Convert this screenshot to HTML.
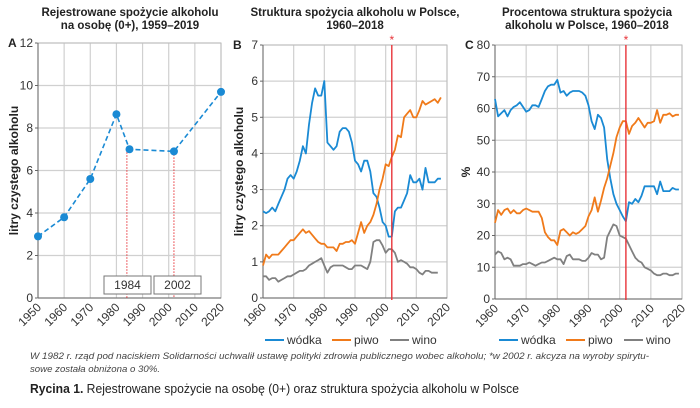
<!DOCTYPE html>
<html><head><meta charset="utf-8"><style>
body{margin:0;background:#fff;width:700px;height:408px;overflow:hidden;font-family:"Liberation Sans",sans-serif}
svg{position:absolute;left:0;top:0}
text{font-family:"Liberation Sans",sans-serif}
</style></head><body>
<svg id="s" width="700" height="408"></svg>
<script>
const aYears=[1950,1960,1970,1980,1985,2002,2020];
const aVals=[2.9,3.8,5.6,8.65,7.0,6.9,9.7];
const aMarks=[1984,2002];
const bYears=[];for(let y=1960;y<=2018;y++)bYears.push(y);
const bVodka=[2.4,2.35,2.4,2.5,2.4,2.6,2.8,3.0,3.3,3.4,3.3,3.5,3.8,4.2,4.0,4.8,5.4,5.8,5.6,5.6,6.0,4.3,4.2,4.1,4.2,4.6,4.7,4.7,4.6,4.3,3.8,3.7,3.5,3.8,3.8,3.5,2.9,2.8,2.5,2.1,2.0,1.7,1.7,2.4,2.5,2.5,2.7,2.9,3.4,3.2,3.2,3.3,3.0,3.6,3.2,3.2,3.2,3.3,3.3];
const bBeer=[0.9,1.2,1.1,1.2,1.2,1.2,1.3,1.4,1.5,1.6,1.6,1.7,1.8,1.9,1.8,1.85,1.75,1.65,1.55,1.5,1.5,1.4,1.4,1.4,1.3,1.5,1.5,1.55,1.55,1.6,1.5,1.8,2.1,1.8,2.0,2.1,2.3,2.6,3.0,3.3,3.7,3.65,3.9,4.1,4.5,4.45,5.0,5.1,5.2,5.0,5.0,5.2,5.45,5.35,5.4,5.45,5.5,5.4,5.55];
const bWine=[0.6,0.6,0.5,0.55,0.55,0.45,0.5,0.55,0.6,0.6,0.65,0.7,0.75,0.75,0.8,0.9,0.95,1.0,1.05,1.1,0.9,0.7,0.85,0.9,0.9,0.9,0.9,0.85,0.8,0.8,0.9,0.9,0.9,0.85,0.8,1.0,1.55,1.6,1.6,1.45,1.25,1.35,1.35,1.25,1.0,1.05,1.0,0.95,0.85,0.85,0.8,0.7,0.65,0.75,0.75,0.7,0.7,0.7];
const cYears=[];for(let y=1960;y<=2019;y++)cYears.push(y);
const cVodka=[63,57.5,58.5,59.5,57.5,59.5,60.5,61,62,60.5,59,59.5,61,61,60.5,63,65.5,67,67.5,67.5,69,65,65.5,64,65,65.5,65.5,65.5,65,64,61,56,53.5,58,57,54,44,38,33,30,28,26,24.5,30.5,30,31.5,30.5,32.5,35.5,35.5,35.5,35.5,33,37,34,34,34,35,34.5,34.5];
const cBeer=[24,28,26.5,28,28.5,27,28,27,27,28,28.5,28,27.5,27.5,27.5,25.5,21,19.5,18.5,18.5,17,21.5,22,21,20,21,20.5,21,22,23,26,28,32,27.5,31,35,38,42,46,51,54,56,56,52,54.5,55.5,57,55.5,54,55.5,55.5,56,59.5,55.5,58,58,58.5,57.5,58,58];
const cWine=[14,15,14.5,12.5,13,12.5,10.5,10.5,10.5,11,11,11.5,11,10.5,11,11.5,11.5,12,12.5,13,12.5,12.5,11,13.5,14,12.5,12.5,12.5,12,12,13,14.5,14,14,12.5,13,19.5,21.5,23.5,23,20,19.5,19,17,15,13,12,11.5,10,9.5,9,8,7.5,7.5,8,8,7.5,7.5,8,8];
const xTicks=[1950,1960,1970,1980,1990,2000,2010,2020];
const xTicksBC=[1960,1970,1980,1990,2000,2010,2020];
const aY=[0,2,4,6,8,10,12],bY=[0,1,2,3,4,5,6,7],cY=[0,10,20,30,40,50,60,70,80];
const C={blue:"#1a8ad4",orange:"#f07a1a",gray:"#808080",red:"#e8343a"};
const S=document.getElementById('s'),NS="http://www.w3.org/2000/svg";
function el(t,a,txt){const e=document.createElementNS(NS,t);for(const k in a)e.setAttribute(k,a[k]);if(txt!=null)e.textContent=txt;S.appendChild(e);return e;}
function panel(p){
 const X=v=>p.x0+(v-p.xmin)/(p.xmax-p.xmin)*(p.x1-p.x0);
 const Y=v=>p.y0-(v-p.ymin)/(p.ymax-p.ymin)*(p.y0-p.y1);
 p.xt.forEach(t=>{let g=el('line',{x1:X(t),x2:X(t),y1:p.y1,y2:p.y0,stroke:'#d0d0d0','stroke-width':1.2});
  
  let l=el('text',{x:X(t)+4,y:p.y0+10,'font-size':12,fill:'#333','text-anchor':'end',transform:`rotate(-45 ${X(t)+4} ${p.y0+10})`},t);
  });
 p.yt.forEach(t=>{let g=el('line',{x1:p.x0,x2:p.x1,y1:Y(t),y2:Y(t),stroke:'#d0d0d0','stroke-width':1.2});
  
  el('line',{x1:p.x0-3,x2:p.x0,y1:Y(t),y2:Y(t),stroke:'#666'});
  let l=el('text',{x:p.x0-5,y:Y(t)+4,'font-size':12,'text-anchor':'end',fill:'#333'},t);
  });
 el('rect',{x:p.x0,y:p.y1,width:p.x1-p.x0,height:p.y0-p.y1,fill:'none',stroke:'#bbb'});
 el('line',{x1:p.x0,x2:p.x1,y1:p.y0,y2:p.y0,stroke:'#666'});
 el('line',{x1:p.x0,x2:p.x0,y1:p.y1,y2:p.y0,stroke:'#666'});
 let pl=el('text',{x:p.x0-30,y:p.y1+4,'font-size':12,'font-weight':'bold',fill:'#222'},p.letter);
 
 let yl=el('text',{x:0,y:0,'font-size':12,'font-weight':'bold',fill:'#222','text-anchor':'middle',transform:`translate(${p.ylx} ${(p.y0+p.y1)/2}) rotate(-90)`},p.ylab);
 
 p.title.forEach((t,i)=>{let e=el('text',{x:p.tx,y:16+i*13,'font-size':11.5,'font-weight':'bold',fill:'#222','text-anchor':'middle'},t);
  });
 return {X,Y};
}
function line(xs,vs,X,Y,col,name){const d=vs.map((v,i)=>(i?'L':'M')+X(xs[i]).toFixed(1)+' '+Y(v).toFixed(1)).join(' ');
 const e=el('path',{d,fill:'none',stroke:col,'stroke-width':1.8,'stroke-linejoin':'round'});
 }
// Panel A
const A=panel({x0:38,x1:221,y0:298,y1:43,xmin:1950,xmax:2020,ymin:0,ymax:12,xt:xTicks,yt:aY,letter:'A',ylab:'litry czystego alkoholu',ylx:18,tx:130,title:['Rejestrowane spożycie alkoholu','na osobę (0+), 1959–2019']});
aMarks.forEach((m,i)=>{
 let e=el('line',{x1:A.X(m),x2:A.X(m),y1:A.Y(i==0?aVals[4]:aVals[5]),y2:298,stroke:C.red,'stroke-width':1,'stroke-dasharray':'1.5 1.5'});
 
 let bx=i==0?104:154;
 let r=el('rect',{x:bx,y:276,width:47,height:18,fill:'#fff',stroke:'#777'});
 
 let t=el('text',{x:bx+23.5,y:289,'font-size':12,fill:'#333','text-anchor':'middle'},m);
 });
{const d=aVals.map((v,i)=>(i?'L':'M')+A.X(aYears[i])+' '+A.Y(v)).join(' ');
 const e=el('path',{d,fill:'none',stroke:C.blue,'stroke-width':1.6,'stroke-dasharray':'5 3'});
 
 aVals.forEach((v,i)=>{const c=el('circle',{cx:A.X(aYears[i]),cy:A.Y(v),r:4,fill:C.blue});
  });}
// Panel B
const B=panel({x0:263,x1:447,y0:298,y1:45,xmin:1960,xmax:2020,ymin:0,ymax:7,xt:xTicksBC,yt:bY,letter:'B',ylab:'litry czystego alkoholu',ylx:243,tx:355,title:['Struktura spożycia alkoholu w Polsce,','1960–2018']});
line(bYears,bVodka,B.X,B.Y,C.blue,'vodka-line');
line(bYears,bBeer,B.X,B.Y,C.orange,'beer-line');
line(bYears.slice(0,bWine.length),bWine,B.X,B.Y,C.gray,'wine-line');
// Panel C
const Cp=panel({x0:495,x1:682,y0:299,y1:45,xmin:1960,xmax:2020,ymin:0,ymax:80,xt:xTicksBC,yt:cY,letter:'C',ylab:'%',ylx:470,tx:587,title:['Procentowa struktura spożycia','alkoholu w Polsce, 1960–2018']});
line(cYears,cVodka,Cp.X,Cp.Y,C.blue,'vodka-line');
line(cYears,cBeer,Cp.X,Cp.Y,C.orange,'beer-line');
line(cYears,cWine,Cp.X,Cp.Y,C.gray,'wine-line');
[[B,45],[Cp,45]].forEach(([P,y])=>{let e=el('line',{x1:P.X(2002),x2:P.X(2002),y1:y,y2:300,stroke:C.red,'stroke-width':1.4});
 
 let t=el('text',{x:P.X(2002),y:y-1,'font-size':12,'text-anchor':'middle',fill:C.red},'*');
 });
// legends
[265,499].forEach(lx=>{[['wódka',C.blue,0],['piwo',C.orange,67],['wino',C.gray,125]].forEach(([n,c,o])=>{
 let l=el('line',{x1:lx+o,x2:lx+o+19,y1:340,y2:340,stroke:c,'stroke-width':2});
 
 let t=el('text',{x:lx+o+22,y:344,'font-size':12,fill:'#333'},n);
 });});
let f1=el('text',{x:30,y:359,'font-size':9.5,'font-style':'italic',fill:'#444',textLength:619,lengthAdjust:'spacingAndGlyphs'},'W 1982 r. rząd pod naciskiem Solidarności uchwalił ustawę polityki zdrowia publicznego wobec alkoholu; *w 2002 r. akcyza na wyroby spirytu-');

let f2=el('text',{x:30,y:372,'font-size':9.5,'font-style':'italic',fill:'#444',textLength:130,lengthAdjust:'spacingAndGlyphs'},'sowe została obniżona o 30%.');

let cap=el('text',{x:30,y:393,'font-size':12.5,fill:'#222',textLength:489,lengthAdjust:'spacingAndGlyphs'});

cap.innerHTML='<tspan font-weight="bold">Rycina 1.</tspan> Rejestrowane spożycie na osobę (0+) oraz struktura spożycia alkoholu w Polsce';
</script>
</body></html>
